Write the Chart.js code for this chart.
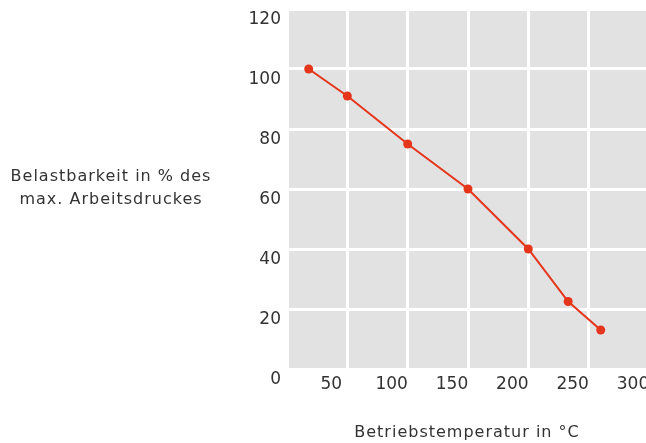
<!DOCTYPE html>
<html>
<head>
<meta charset="utf-8">
<script src="https://cdn.jsdelivr.net/npm/chart.js@4"></script>
<style>
  html, body { margin: 0; padding: 0; background: #fff; overflow: hidden; }
  #wrap { position: relative; width: 680px; height: 443px; }
</style>
</head>
<body>
<div id="wrap"><canvas id="chart" width="680" height="443"></canvas></div>
<script>
// Werte
const temperatures = [18, 50, 100, 150, 200, 233, 260];
const loadPercent = [100, 91, 75, 60, 40, 22.5, 13];
const xTicks = [0, 50, 100, 150, 200, 250, 300];
const yTicks = [0, 20, 40, 60, 80, 100, 120];
const yTitle = ["Belastbarkeit in % des", "max. Arbeitsdruckes"];
const xTitle = "Betriebstemperatur in °C";

const textColor = "#333333";
const fontFamily = "'DejaVu Sans', sans-serif";

// grauer Hintergrund + Achsentitel
const decor = {
    id: "decor",
    beforeDraw(c) {
        const a = c.chartArea;
        const ctx = c.ctx;
        ctx.save();
        ctx.fillStyle = "#e2e2e2";
        ctx.fillRect(a.left, a.top, a.right - a.left, a.bottom - a.top);
        ctx.restore();
    },
    afterDraw(c) {
        const ctx = c.ctx;
        ctx.save();
        ctx.fillStyle = textColor;
        ctx.font = "16px " + fontFamily;
        ctx.letterSpacing = "1px";
        ctx.textAlign = "center";
        ctx.textBaseline = "middle";
        ctx.fillText(yTitle[0], 111, 177);
        ctx.fillText(yTitle[1], 111, 200);
        ctx.fillText(xTitle, 467, 433);
        ctx.restore();
    }
};

new Chart(document.getElementById("chart"), {
    type: "line",
    data: {
        datasets: [{
            data: temperatures.map((t, i) => ({ x: t, y: loadPercent[i] })),
            borderColor: "#e5351b",
            backgroundColor: "#e5351b",
            borderWidth: 2,
            pointRadius: 4.5,
            pointHoverRadius: 4.5,
            pointBorderWidth: 0,
            tension: 0
        }]
    },
    options: {
        responsive: false,
        animation: false,
        devicePixelRatio: 1,
        layout: { padding: { left: 0, right: 31, top: 9, bottom: 0 } },
        plugins: { legend: { display: false }, tooltip: { enabled: false } },
        scales: {
            x: {
                type: "linear",
                min: 0, max: 300,
                afterBuildTicks: s => { s.ticks = xTicks.map(v => ({ value: v })); },
                afterFit: s => { s.height = 74; s.paddingLeft = 0; s.paddingRight = 0; },
                grid: { color: "#ffffff", lineWidth: 3, drawTicks: false },
                border: { display: false },
                ticks: {
                    color: textColor,
                    font: { family: fontFamily, size: 17 },
                    padding: 5,
                    labelOffset: -16,
                    callback: v => v === 0 ? "" : v
                }
            },
            y: {
                min: 0, max: 120,
                afterBuildTicks: s => { s.ticks = yTicks.map(v => ({ value: v })); },
                afterFit: s => { s.width = 287; s.paddingTop = 0; s.paddingBottom = 0; },
                grid: { color: "#ffffff", lineWidth: 3, drawTicks: false },
                border: { display: false },
                ticks: {
                    color: textColor,
                    font: { family: fontFamily, size: 17 },
                    padding: 6,
                    labelOffset: 11
                }
            }
        }
    },
    plugins: [decor]
});
</script>
</body>
</html>
